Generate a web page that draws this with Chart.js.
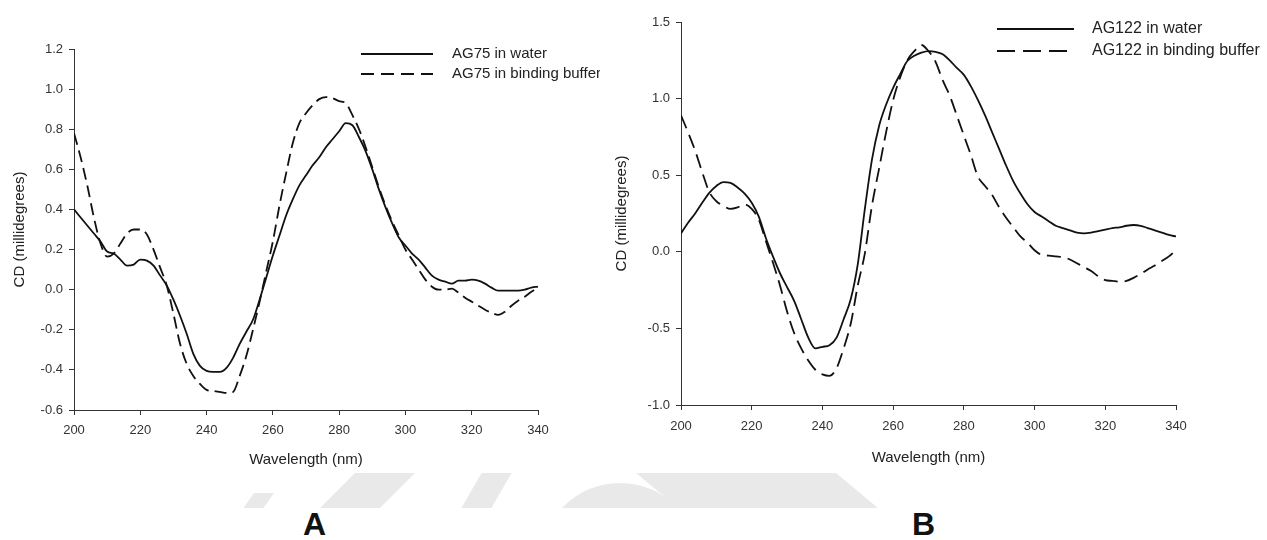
<!DOCTYPE html>
<html>
<head>
<meta charset="utf-8">
<script src="https://cdn.jsdelivr.net/npm/chart.js@4.4.1/dist/chart.umd.min.js"></script>
<style>
  html, body { margin: 0; padding: 0; background: #fff; }
  body { width: 1267px; height: 540px; position: relative; overflow: hidden; font-family: "Liberation Sans", Arial, sans-serif; }
  .panel { position: absolute; top: 0; height: 480px; }
  #panelA { left: 0; width: 600px; }
  #panelB { left: 604px; width: 663px; }
  .tag { position: absolute; top: 506px; font-weight: bold; font-size: 32px; color: #111; }
  .wm { position: absolute; left: 240px; top: 473px; width: 830px; height: 35px; overflow: hidden; }
  .wm div { position: absolute; background: #e9e9e9; }
</style>
</head>
<body>
<div class="wm">
  <div style="left:95px; top:-10px; width:60px; height:60px; transform:skewX(-45deg);"></div>
  <div style="left:230px; top:-10px; width:30px; height:60px; transform:skewX(-30deg);"></div>
  <div style="left:300px; top:10px; width:160px; height:160px; border-radius:50%;"></div>
  <div style="left:420px; top:-10px; width:200px; height:60px; transform:skewX(50deg);"></div>
  <div style="left:0px; top:20px; width:20px; height:40px; transform:skewX(-35deg);"></div>
</div>
<div id="panelA" class="panel"><canvas id="chartA"></canvas></div>
<div id="panelB" class="panel"><canvas id="chartB"></canvas></div>
<div class="tag" style="left:303px;">A</div>
<div class="tag" style="left:912px;">B</div>
<script>
const wavelengths = [200, 202, 204, 206, 208, 210, 212, 214, 216, 218, 220, 222, 224, 226, 228, 230, 232, 234, 236, 238,
  240, 242, 244, 246, 248, 250, 252, 254, 256, 258, 260, 262, 264, 266, 268, 270, 272, 274, 276, 278,
  280, 282, 284, 286, 288, 290, 292, 294, 296, 298, 300, 302, 304, 306, 308, 310, 312, 314, 316, 318,
  320, 322, 324, 326, 328, 330, 332, 334, 336, 338, 340];

const ag75Water = [0.40, 0.36, 0.32, 0.28, 0.24, 0.19, 0.18, 0.15, 0.12, 0.125, 0.15, 0.145, 0.12, 0.07, 0.02, -0.05, -0.13, -0.22, -0.32, -0.38,
  -0.405, -0.41, -0.41, -0.39, -0.34, -0.27, -0.21, -0.15, -0.05, 0.06, 0.17, 0.27, 0.37, 0.45, 0.52, 0.57, 0.62, 0.66, 0.71, 0.75,
  0.79, 0.83, 0.82, 0.76, 0.69, 0.60, 0.50, 0.41, 0.33, 0.26, 0.22, 0.18, 0.15, 0.11, 0.07, 0.05, 0.04, 0.03, 0.045, 0.045,
  0.05, 0.045, 0.03, 0.01, -0.005, -0.005, -0.005, -0.005, 0.0, 0.01, 0.015];

const ag75Buffer = [0.78, 0.66, 0.52, 0.36, 0.23, 0.165, 0.18, 0.23, 0.28, 0.30, 0.30, 0.275, 0.20, 0.11, 0.02, -0.12, -0.27, -0.37, -0.43, -0.47,
  -0.50, -0.505, -0.51, -0.515, -0.51, -0.43, -0.33, -0.20, -0.06, 0.09, 0.24, 0.42, 0.58, 0.73, 0.83, 0.88, 0.92, 0.95, 0.96, 0.955,
  0.94, 0.93, 0.87, 0.80, 0.71, 0.61, 0.51, 0.42, 0.34, 0.27, 0.20, 0.15, 0.10, 0.05, 0.015, 0.0, 0.0, 0.005, -0.015, -0.04,
  -0.06, -0.08, -0.10, -0.115, -0.126, -0.11, -0.08, -0.055, -0.035, -0.01, 0.01];

const ag122Water = [0.12, 0.19, 0.25, 0.32, 0.385, 0.43, 0.455, 0.45, 0.42, 0.38, 0.32, 0.23, 0.09, -0.03, -0.14, -0.23, -0.32, -0.44, -0.56, -0.63,
  -0.62, -0.61, -0.56, -0.44, -0.31, -0.08, 0.28, 0.60, 0.82, 0.96, 1.07, 1.16, 1.245, 1.28, 1.30, 1.31, 1.305, 1.29, 1.25, 1.20,
  1.155, 1.08, 0.99, 0.89, 0.78, 0.67, 0.56, 0.46, 0.38, 0.31, 0.26, 0.23, 0.20, 0.17, 0.155, 0.14, 0.125, 0.12, 0.125, 0.135,
  0.145, 0.155, 0.16, 0.17, 0.175, 0.17, 0.155, 0.14, 0.125, 0.11, 0.10];

const ag122Buffer = [0.89, 0.78, 0.66, 0.52, 0.39, 0.33, 0.30, 0.28, 0.29, 0.31, 0.28, 0.21, 0.07, -0.07, -0.22, -0.39, -0.53, -0.63, -0.71, -0.77,
  -0.80, -0.81, -0.76, -0.63, -0.47, -0.22, -0.01, 0.30, 0.54, 0.78, 0.99, 1.14, 1.25, 1.31, 1.35, 1.31, 1.24, 1.12, 1.02, 0.89,
  0.76, 0.63, 0.49, 0.43, 0.37, 0.29, 0.22, 0.16, 0.10, 0.06, 0.01, -0.02, -0.025, -0.03, -0.035, -0.05, -0.075, -0.10, -0.125, -0.16,
  -0.185, -0.19, -0.195, -0.19, -0.17, -0.145, -0.115, -0.09, -0.06, -0.03, 0.01];

const labelsA = ['AG75 in water', 'AG75 in binding buffer'];
const labelsB = ['AG122 in water', 'AG122 in binding buffer'];

const FONT = '"Liberation Sans", Arial, sans-serif';

// legend drawn as line samples + text, like the original figure
const sampleLegend = {
  id: 'sampleLegend',
  afterDraw(chart, args, opts) {
    const ctx = chart.ctx;
    ctx.save();
    chart.data.datasets.forEach((ds, i) => {
      const y = opts.y + i * opts.rowGap;
      ctx.strokeStyle = '#111';
      ctx.lineWidth = 2;
      ctx.setLineDash(i === 1 ? opts.dash : []);
      ctx.beginPath();
      ctx.moveTo(opts.x, y);
      ctx.lineTo(opts.x + opts.lineLen, y);
      ctx.stroke();
      ctx.setLineDash([]);
      ctx.fillStyle = '#222';
      ctx.font = opts.fontSize + 'px ' + FONT;
      ctx.textBaseline = 'middle';
      ctx.fillText(ds.label, opts.textX, y);
    });
    ctx.restore();
  }
};

function series(vals) {
  return wavelengths.map((w, i) => ({ x: w, y: vals[i] }));
}

function makeChart(id, cfg) {
  return new Chart(document.getElementById(id), {
    type: 'line',
    data: {
      datasets: [
        { label: cfg.labels[0], data: series(cfg.water), borderColor: '#111', borderWidth: 1.8, pointRadius: 0, cubicInterpolationMode: 'monotone' },
        { label: cfg.labels[1], data: series(cfg.buffer), borderColor: '#111', borderWidth: 1.8, borderDash: cfg.dash, pointRadius: 0, cubicInterpolationMode: 'monotone' },
      ],
    },
    options: {
      responsive: true,
      maintainAspectRatio: false,
      animation: false,
      layout: { padding: { top: cfg.padTop, right: cfg.padRight, left: 0, bottom: 0 } },
      plugins: {
        legend: { display: false },
        tooltip: { enabled: false },
        sampleLegend: cfg.legend,
      },
      scales: {
        x: {
          type: 'linear',
          min: 200, max: 340,
          afterFit: s => { s.height = cfg.xHeight; },
          ticks: { stepSize: 20, padding: cfg.xTickPad, color: '#333', font: { family: FONT, size: 13 } },
          grid: { drawOnChartArea: false, drawTicks: true, tickLength: 5, color: '#333' },
          border: { color: '#333', width: 1 },
          title: { display: true, text: 'Wavelength (nm)', color: '#222', font: { family: FONT, size: 15 }, padding: { top: 0, bottom: cfg.xTitlePad } },
        },
        y: {
          min: cfg.yMin, max: cfg.yMax,
          afterFit: s => { s.width = cfg.yWidth; },
          ticks: { stepSize: cfg.yStep, padding: 6, color: '#333', font: { family: FONT, size: 13 }, callback: v => v.toFixed(1) },
          grid: { drawOnChartArea: false, drawTicks: true, tickLength: 5, color: '#333' },
          border: { color: '#333', width: 1 },
          title: { display: true, text: 'CD (millidegrees)', color: '#222', font: { family: FONT, size: 15 }, padding: { top: cfg.yTitlePad, bottom: 0 } },
        },
      },
    },
    plugins: [sampleLegend],
  });
}

makeChart('chartA', {
  labels: labelsA, water: ag75Water, buffer: ag75Buffer, dash: [12, 6],
  yMin: -0.6, yMax: 1.2, yStep: 0.2,
  padTop: 49, padRight: 62, yWidth: 74, xHeight: 70,
  xTickPad: 8, xTitlePad: 11, yTitlePad: 11,
  legend: { x: 361, lineLen: 72, textX: 452, y: 54, rowGap: 20, fontSize: 15, dash: [13, 7] },
});

makeChart('chartB', {
  labels: labelsB, water: ag122Water, buffer: ag122Buffer, dash: [14, 7],
  yMin: -1.0, yMax: 1.5, yStep: 0.5,
  padTop: 22, padRight: 91, yWidth: 77, xHeight: 75,
  xTickPad: 9, xTitlePad: 13, yTitlePad: 9,
  legend: { x: 393, lineLen: 77, textX: 488, y: 29, rowGap: 22, fontSize: 16, dash: [18, 8] },
});
</script>
</body>
</html>
